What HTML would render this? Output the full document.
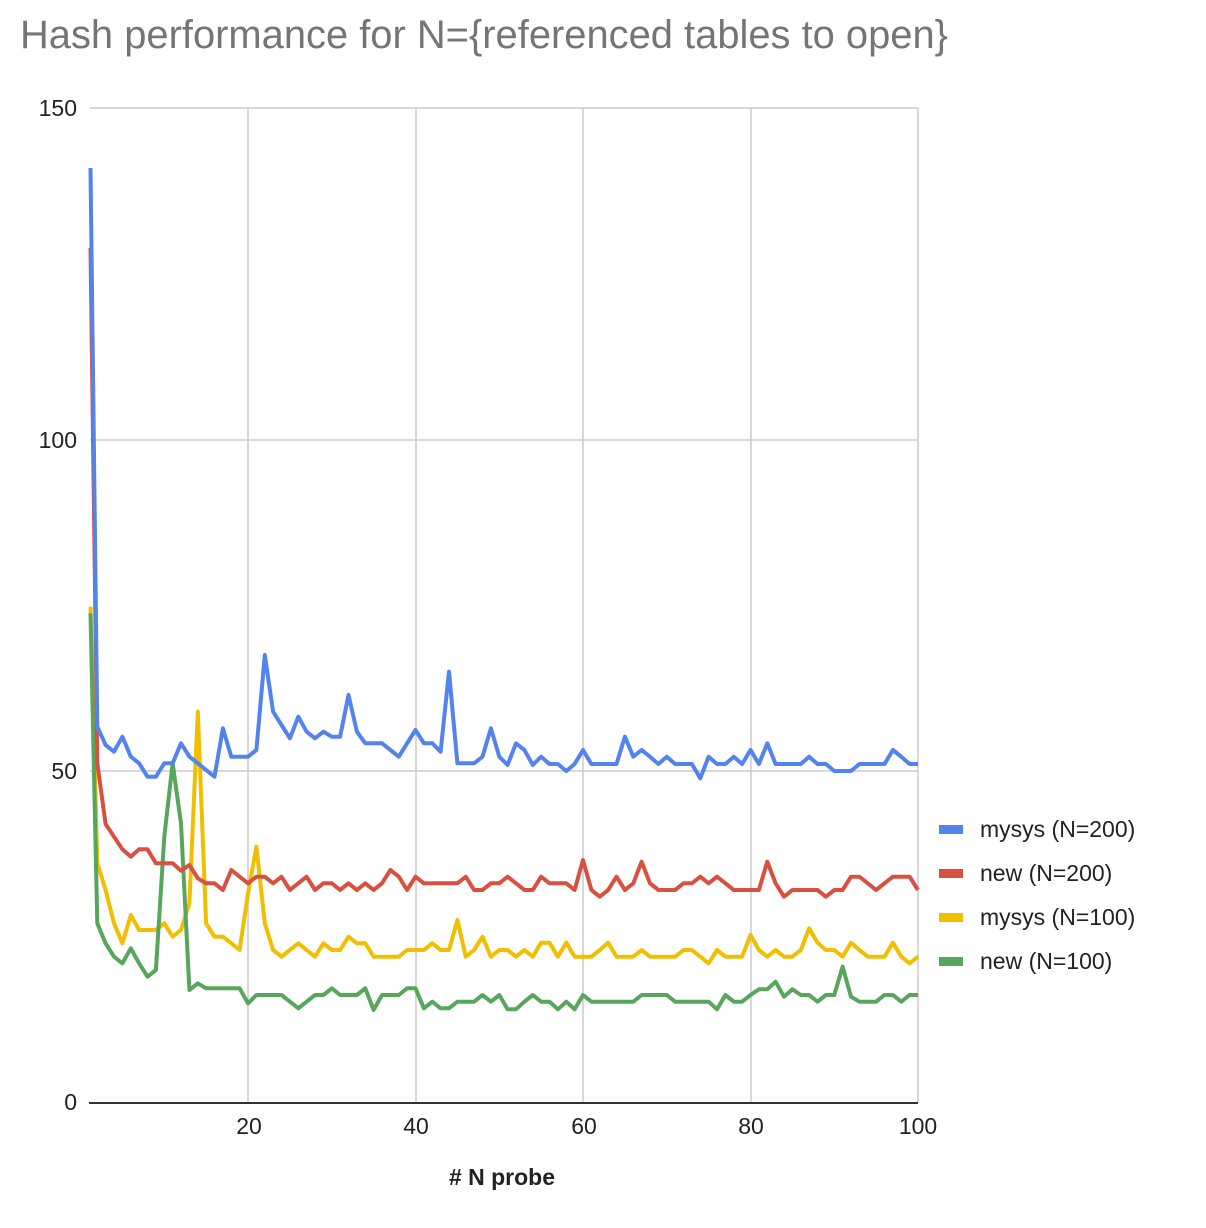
<!DOCTYPE html>
<html><head><meta charset="utf-8"><style>
html,body{margin:0;padding:0;background:#fff;}
svg{display:block;font-family:"Liberation Sans",Arial,sans-serif;}
</style></head><body>
<svg id="c" width="1206" height="1228" viewBox="0 0 1206 1228" xmlns="http://www.w3.org/2000/svg">
<rect width="1206" height="1228" fill="#fff"/>
<text x="20" y="48" font-size="40" fill="#757575" textLength="928" lengthAdjust="spacingAndGlyphs">Hash performance for N={referenced tables to open}</text>
<g stroke="#cccccc" stroke-width="1.5">
<line x1="90" y1="108" x2="918" y2="108"/>
<line x1="90" y1="440" x2="918" y2="440"/>
<line x1="90" y1="771" x2="918" y2="771"/>
<line x1="248" y1="108" x2="248" y2="1103"/>
<line x1="416" y1="108" x2="416" y2="1103"/>
<line x1="583" y1="108" x2="583" y2="1103"/>
<line x1="751" y1="108" x2="751" y2="1103"/>
<line x1="918" y1="108" x2="918" y2="1103"/>
</g>
<g font-size="23" fill="#222" text-anchor="end">
<text x="77" y="116">150</text>
<text x="77" y="448">100</text>
<text x="77" y="779">50</text>
<text x="77" y="1110">0</text>
</g>
<g font-size="23" fill="#222" text-anchor="middle">
<text x="249" y="1134">20</text>
<text x="416" y="1134">40</text>
<text x="584" y="1134">60</text>
<text x="751" y="1134">80</text>
<text x="918" y="1134">100</text>
<text x="502" y="1185" font-weight="bold">#  N probe</text>
</g>
<g id="lines" fill="none" stroke-width="4" stroke-linejoin="round"></g>
<line x1="89" y1="1103" x2="918" y2="1103" stroke="#333" stroke-width="2"/>
<g font-size="23" fill="#222">
<rect x="939" y="825" width="24" height="9" fill="#5383ec"/><text x="980" y="837">mysys (N=200)</text>
<rect x="939" y="869" width="24" height="9" fill="#d85140"/><text x="980" y="881">new (N=200)</text>
<rect x="939" y="913" width="24" height="9" fill="#f1be00"/><text x="980" y="925">mysys (N=100)</text>
<rect x="939" y="957" width="24" height="9" fill="#58a55c"/><text x="980" y="969">new (N=100)</text>
</g>
</svg>
<script>
var S=[
["#f1be00",[20,790,870,970,1030,945,990,990,990,970,1010,990,910,335,970,1010,1010,1030,1050,880,740,970,1050,1070,1050,1030,1050,1070,1030,1050,1050,1010,1030,1030,1070,1070,1070,1070,1050,1050,1050,1030,1050,1050,960,1070,1050,1010,1070],
[930,930,950,930,950,908,908,950,908,950,950,950,930,908,950,950,950,930,950,950,950,950,930,930,950,970,930,950,950,950,885,930,950,930,950,950,930,865,908,930,930,950,908,930,950,950,950,908,950,970,950]],
["#58a55c",[40,970,1030,1070,1090,1045,1090,1130,1110,710,490,670,1170,1150,1165,1165,1165,1165,1165,1210,1185,1185,1185,1185,1205,1225,1205,1185,1185,1165,1185,1185,1185,1165,1230,1185,1185,1185,1165,1165,1225,1205,1225,1225,1205,1205,1205,1185,1205],
[1065,1108,1108,1085,1065,1085,1085,1108,1085,1108,1065,1085,1085,1085,1085,1085,1085,1065,1065,1065,1065,1085,1085,1085,1085,1085,1108,1065,1085,1085,1065,1048,1048,1025,1070,1048,1065,1065,1085,1065,1065,980,1070,1085,1085,1085,1065,1065,1085,1065,1065]],
["#d85140",[-1056,490,672,710,748,770,748,748,790,790,790,812,795,835,850,850,870,810,830,850,830,830,850,830,870,850,830,870,850,850,870,850,870,850,870,850,810,830,870,830,850,850,850,850,850,830,870,870,850],
[730,710,730,750,750,710,730,730,730,750,660,750,770,750,710,750,730,665,730,750,750,750,730,730,710,730,710,730,750,750,750,750,665,730,770,750,750,750,750,770,750,750,710,710,730,750,730,710,710,710,750]],
["#5383ec",[-1296,380,435,455,410,470,490,530,530,490,490,430,470,490,510,530,385,470,470,470,450,165,335,375,415,350,395,415,395,410,410,285,395,430,430,430,450,470,430,390,430,430,455,215,490,490,490,470,385],
[350,375,310,330,375,350,372,372,393,372,330,372,372,372,372,290,350,330,350,372,350,372,372,372,415,350,372,372,350,372,330,372,310,372,372,372,372,350,372,372,393,393,393,372,372,372,372,330,350,372,372]]
];
var g=document.getElementById('lines'),ns="http://www.w3.org/2000/svg";
S.forEach(function(s){
 var pts=[];
 s[1].forEach(function(v,i){var x=i+1;pts.push([80.5+8.375*x,v/3+600]);});
 s[2].forEach(function(v,i){var x=50+i;pts.push([80.5+8.375*x,v/3+640]);});
 pts[0][0]=90.5;
 var p=document.createElementNS(ns,'polyline');
 p.setAttribute('points',pts.map(function(a){return a[0].toFixed(1)+','+a[1].toFixed(1)}).join(' '));
 p.setAttribute('stroke',s[0]);
 g.appendChild(p);
});
</script>
</body></html>
